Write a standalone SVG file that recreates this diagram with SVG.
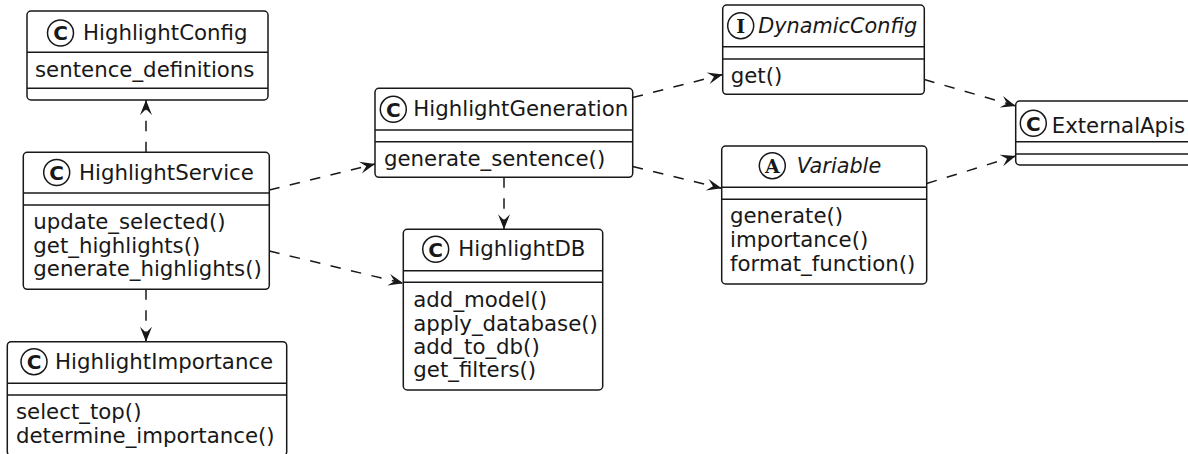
<svg xmlns="http://www.w3.org/2000/svg" width="1188" height="454" viewBox="0 0 1188 454">
  <style>
    .box { fill: #ffffff; stroke: #181818; stroke-width: 1.5; }
    .sep { stroke: #181818; stroke-width: 1.5; }
    .icon { fill: #ffffff; stroke: #181818; stroke-width: 1.5; }
    .glyph { font-family: "DejaVu Sans", "Liberation Sans", sans-serif; font-size: 20px; font-weight: bold; fill: #181818; text-anchor: middle; }
    .glyph-serif { font-family: "DejaVu Serif", "Liberation Serif", serif; font-size: 19px; font-weight: bold; fill: #181818; text-anchor: middle; }
    .title { font-family: "DejaVu Sans", "Liberation Sans", sans-serif; font-size: 21.3px; fill: #181818; }
    .abstract { font-style: italic; font-size: 20.8px; }
    .member { font-family: "DejaVu Sans", "Liberation Sans", sans-serif; font-size: 21.3px; fill: #181818; }
    .dep { fill: none; stroke: #181818; stroke-width: 1.5; stroke-dasharray: 10.5 10.5; marker-end: url(#open-arrow); }
  </style>
  <defs>
    <marker id="open-arrow" viewBox="-16 -7 17 14" markerWidth="17" markerHeight="14" refX="0" refY="0" orient="auto" markerUnits="userSpaceOnUse">
      <path d="M0,0 L-15,-6 L-9,0 L-15,6 Z" fill="#181818"/>
    </marker>
  </defs>

  <rect width="1188" height="454" fill="#ffffff"/>

  <!-- dependency arrows -->
  <g id="connectors">
    <line class="dep" x1="146" y1="152.3" x2="146" y2="100"/>
    <line class="dep" x1="146" y1="289.3" x2="146" y2="341.7"/>
    <line class="dep" x1="269.3" y1="190" x2="375" y2="164"/>
    <line class="dep" x1="269.3" y1="251" x2="403.3" y2="283.3"/>
    <line class="dep" x1="504" y1="177.3" x2="504" y2="229.3"/>
    <line class="dep" x1="632.7" y1="97.5" x2="722.7" y2="74.5"/>
    <line class="dep" x1="632.7" y1="166.5" x2="721.7" y2="188.3"/>
    <line class="dep" x1="924.3" y1="79.5" x2="1015.7" y2="106"/>
    <line class="dep" x1="926.7" y1="183.5" x2="1015.7" y2="156"/>
  </g>

  <g id="HighlightConfig">
    <rect class="box" x="27" y="11" width="241" height="89" rx="4"/>
    <line class="sep" x1="27" y1="52.3" x2="268" y2="52.3"/>
    <line class="sep" x1="27" y1="88.3" x2="268" y2="88.3"/>
    <circle class="icon" cx="60.5" cy="33" r="13"/>
    <text class="glyph" x="60.5" y="40.2">C</text>
    <text class="title" x="83" y="39.5">HighlightConfig</text>
    <text class="member" x="35" y="77">sentence_definitions</text>
  </g>

  <g id="HighlightService">
    <rect class="box" x="23.3" y="152.3" width="246" height="137" rx="4"/>
    <line class="sep" x1="23.3" y1="193" x2="269.3" y2="193"/>
    <line class="sep" x1="23.3" y1="205" x2="269.3" y2="205"/>
    <circle class="icon" cx="56.7" cy="172.5" r="13"/>
    <text class="glyph" x="56.7" y="179.7">C</text>
    <text class="title" x="79" y="179.5">HighlightService</text>
    <text class="member" x="33.3" y="229.3">update_selected()</text>
    <text class="member" x="33.3" y="252.8">get_highlights()</text>
    <text class="member" x="33.3" y="276.3">generate_highlights()</text>
  </g>

  <g id="HighlightImportance">
    <rect class="box" x="7.3" y="341.7" width="279.4" height="114" rx="4"/>
    <line class="sep" x1="7.3" y1="383.3" x2="286.7" y2="383.3"/>
    <line class="sep" x1="7.3" y1="395" x2="286.7" y2="395"/>
    <circle class="icon" cx="34" cy="361.7" r="13"/>
    <text class="glyph" x="34" y="368.9">C</text>
    <text class="title" x="55" y="369">HighlightImportance</text>
    <text class="member" x="16" y="419.3">select_top()</text>
    <text class="member" x="16" y="442.8">determine_importance()</text>
  </g>

  <g id="HighlightGeneration">
    <rect class="box" x="375" y="88.3" width="257.7" height="89" rx="4"/>
    <line class="sep" x1="375" y1="130" x2="632.7" y2="130"/>
    <line class="sep" x1="375" y1="141.7" x2="632.7" y2="141.7"/>
    <circle class="icon" cx="393.3" cy="109.3" r="13"/>
    <text class="glyph" x="393.3" y="116.5">C</text>
    <text class="title" x="413.3" y="115.5">HighlightGeneration</text>
    <text class="member" x="384" y="166">generate_sentence()</text>
  </g>

  <g id="HighlightDB">
    <rect class="box" x="403.3" y="229.3" width="199.4" height="160.7" rx="4"/>
    <line class="sep" x1="403.3" y1="270.7" x2="602.7" y2="270.7"/>
    <line class="sep" x1="403.3" y1="282.3" x2="602.7" y2="282.3"/>
    <circle class="icon" cx="435.7" cy="249.3" r="13"/>
    <text class="glyph" x="435.7" y="256.5">C</text>
    <text class="title" x="458.3" y="256">HighlightDB</text>
    <text class="member" x="413.3" y="307.3">add_model()</text>
    <text class="member" x="413.3" y="330.6">apply_database()</text>
    <text class="member" x="413.3" y="353.9">add_to_db()</text>
    <text class="member" x="413.3" y="377.2">get_filters()</text>
  </g>

  <g id="DynamicConfig">
    <rect class="box" x="722.7" y="5" width="201.6" height="89.3" rx="4"/>
    <line class="sep" x1="722.7" y1="46.7" x2="924.3" y2="46.7"/>
    <line class="sep" x1="722.7" y1="59" x2="924.3" y2="59"/>
    <circle class="icon" cx="740.7" cy="25.7" r="13"/>
    <text class="glyph-serif" x="740.7" y="32.6">I</text>
    <text class="title abstract" x="758.3" y="33">DynamicConfig</text>
    <text class="member" x="730.7" y="83.3">get()</text>
  </g>

  <g id="Variable">
    <rect class="box" x="721.7" y="146" width="205" height="138" rx="4"/>
    <line class="sep" x1="721.7" y1="187.3" x2="926.7" y2="187.3"/>
    <line class="sep" x1="721.7" y1="199.3" x2="926.7" y2="199.3"/>
    <circle class="icon" cx="772.3" cy="165.7" r="13"/>
    <text class="glyph-serif" x="772.3" y="172.6">A</text>
    <text class="title abstract" x="796.7" y="173.3">Variable</text>
    <text class="member" x="730" y="223.3">generate()</text>
    <text class="member" x="730" y="247">importance()</text>
    <text class="member" x="730" y="270.7">format_function()</text>
  </g>

  <g id="ExternalApis">
    <rect class="box" x="1015.7" y="101" width="200" height="64" rx="4"/>
    <line class="sep" x1="1015.7" y1="141.7" x2="1215.7" y2="141.7"/>
    <line class="sep" x1="1015.7" y1="154" x2="1215.7" y2="154"/>
    <circle class="icon" cx="1033.3" cy="123.3" r="13"/>
    <text class="glyph" x="1033.3" y="130.5">C</text>
    <text class="title" x="1051.7" y="133.3">ExternalApis</text>
  </g>
</svg>
